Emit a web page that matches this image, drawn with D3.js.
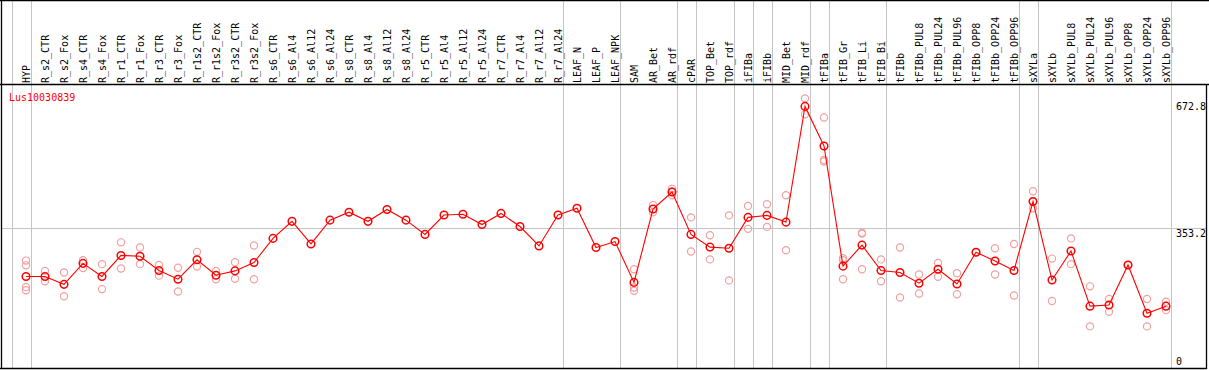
<!DOCTYPE html>
<html>
<head>
<meta charset="utf-8">
<script src="https://cdn.jsdelivr.net/npm/d3@7"></script>
<style>
  html, body { margin: 0; padding: 0; background: #fff; }
  svg { display: block; }
  text { font-family: "DejaVu Sans Mono", "Liberation Mono", monospace; font-size: 10px; }
</style>
</head>
<body>
<svg id="chart" width="1209" height="370"></svg>
<script>
// ---------------- DATA ----------------
const title = "Lus10030839";

const categories = [
  "HYP","R_s2_CTR","R_s2_Fox","R_s4_CTR","R_s4_Fox","R_r1_CTR","R_r1_Fox","R_r3_CTR","R_r3_Fox",
  "R_r1s2_CTR","R_r1s2_Fox","R_r3s2_CTR","R_r3s2_Fox",
  "R_s6_CTR","R_s6_Al4","R_s6_Al12","R_s6_Al24","R_s8_CTR","R_s8_Al4","R_s8_Al12","R_s8_Al24",
  "R_r5_CTR","R_r5_Al4","R_r5_Al12","R_r5_Al24","R_r7_CTR","R_r7_Al4","R_r7_Al12","R_r7_Al24",
  "LEAF_N","LEAF_P","LEAF_NPK","SAM","AR_Bet","AR_rdf","cPAR","TOP_Bet","TOP_rdf",
  "iFIBa","iFIBb","MID_Bet","MID_rdf","tFIBa","tFIB_Gr","tFIB_Li","tFIB_Bi",
  "tFIBb","tFIBb_PUL8","tFIBb_PUL24","tFIBb_PUL96","tFIBb_OPP8","tFIBb_OPP24","tFIBb_OPP96",
  "sXYLa","sXYLb","sXYLb_PUL8","sXYLb_PUL24","sXYLb_PUL96","sXYLb_OPP8","sXYLb_OPP24","sXYLb_OPP96"
];

// mean expression per sample (connected line)
const means = [
  231, 231, 211, 264, 231, 284, 282, 246, 224,
  273, 234, 245, 266,
  327, 370, 313, 373, 393, 370, 400, 373,
  337, 386, 388, 362, 390, 357, 308, 386,
  403, 304, 319, 216, 401, 444, 337, 305, 302,
  380, 385, 368, 660, 560, 257, 310, 246,
  241, 214, 249, 212, 292, 270, 246,
  420, 222, 295, 156, 159, 260, 138, 156
];

// individual replicate values (light circles)
const replicates = [
  [271, 259, 204, 196], [245, 219], [241, 181], [272, 252], [262, 199],
  [317, 251], [304, 262], [260, 233], [253, 193],
  [293, 256], [245, 224], [267, 225], [309, 224],
  [], [], [], [], [], [], [], [],
  [], [], [], [], [], [], [], [],
  [], [], [], [249, 203, 195], [411, 393], [452, 445, 436], [380, 294], [335, 274], [385, 221],
  [409, 351], [413, 356], [436, 297], [680, 640], [632, 525, 521], [277, 272, 224], [341, 339, 249], [274, 219],
  [304, 178], [236, 188], [265, 230], [239, 186], [292], [302, 236], [313, 183],
  [446, 420, 403], [276, 169], [327, 262], [206, 105], [174, 142], [260], [174, 105], [167, 146]
];

// group separators (vertical grey lines after these samples)
const separatorsAfter = ["HYP","R_r7_Al24","LEAF_NPK","AR_rdf","cPAR","TOP_rdf","iFIBa","iFIBb",
  "MID_rdf","tFIBa","tFIB_Bi","tFIBb_OPP96","sXYLa","sXYLb_OPP96"];

const yTicks = [0, 353.2, 672.8];
const yGridValues = [353.2];

// ---------------- LAYOUT ----------------
const W = 1209, H = 370;
const headerBottom = 84.5;
const plotBottom = 368.5;
const leftEdge = 1.5, rightEdge = 1206.5;

const svg = d3.select("#chart");

const x = d3.scalePoint().domain(categories).range([26, 1166]);
const step = x.step();
const y = d3.scaleLinear().domain([0, 353.2]).range([368, 228]);

const red = "#ff0000";
const pink = "#f2a0a0";
const grid = "#c4c4c4";

// vertical separators
const sepX = [x(categories[0]) - step + 4.7].concat(separatorsAfter.map(c => x(c) + 4.7));
svg.append("g").selectAll("line").data(sepX).join("line")
  .attr("x1", d => Math.round(d) + 0.5).attr("x2", d => Math.round(d) + 0.5)
  .attr("y1", 0).attr("y2", plotBottom)
  .attr("stroke", grid).attr("stroke-width", 1);

// horizontal grid
svg.append("g").selectAll("line").data(yGridValues).join("line")
  .attr("x1", leftEdge).attr("x2", rightEdge)
  .attr("y1", d => Math.round(y(d)) + 0.5).attr("y2", d => Math.round(y(d)) + 0.5)
  .attr("stroke", grid).attr("stroke-width", 1);

// frame
const frame = svg.append("g").attr("stroke", "#000").attr("stroke-width", 1.3).attr("fill", "none");
frame.append("line").attr("x1", 0).attr("x2", W).attr("y1", 0.7).attr("y2", 0.7);
frame.append("line").attr("x1", 0).attr("x2", W).attr("y1", headerBottom).attr("y2", headerBottom);
frame.append("line").attr("x1", leftEdge).attr("x2", leftEdge).attr("y1", 0).attr("y2", plotBottom + 0.5);
frame.append("line").attr("x1", 0).attr("x2", rightEdge).attr("y1", plotBottom).attr("y2", plotBottom);
frame.append("line").attr("x1", rightEdge).attr("x2", rightEdge).attr("y1", headerBottom).attr("y2", plotBottom + 0.5);

// category labels (vertical)
svg.append("g").selectAll("text").data(categories).join("text")
  .attr("transform", d => `translate(${x(d) + 4},83) rotate(-90)`)
  .attr("text-anchor", "start")
  .attr("fill", "#000")
  .text(d => d);

// y tick labels
svg.append("g").selectAll("text").data(yTicks).join("text")
  .attr("x", 1176)
  .attr("y", d => Math.min(y(d) + 9, 365))
  .attr("fill", "#000")
  .text(d => d === 0 ? "0" : d3.format(".1f")(d));

// title
svg.append("text").attr("x", 9).attr("y", 101).attr("fill", red).text(title);

// replicates
const repData = [];
categories.forEach((c, i) => replicates[i].forEach(v => repData.push({c, v})));
svg.append("g").selectAll("circle").data(repData).join("circle")
  .attr("cx", d => x(d.c)).attr("cy", d => y(d.v)).attr("r", 3.6)
  .attr("fill", "none").attr("stroke", pink).attr("stroke-width", 1.2);

// mean line
const lineData = categories.map((c, i) => ({c, v: means[i]}));
svg.append("path").datum(lineData)
  .attr("d", d3.line().x(d => x(d.c)).y(d => y(d.v)))
  .attr("fill", "none").attr("stroke", red).attr("stroke-width", 1.1);

// mean markers
svg.append("g").selectAll("circle").data(lineData).join("circle")
  .attr("cx", d => x(d.c)).attr("cy", d => y(d.v)).attr("r", 3.8)
  .attr("fill", "none").attr("stroke", red).attr("stroke-width", 1.5);
</script>
</body>
</html>
